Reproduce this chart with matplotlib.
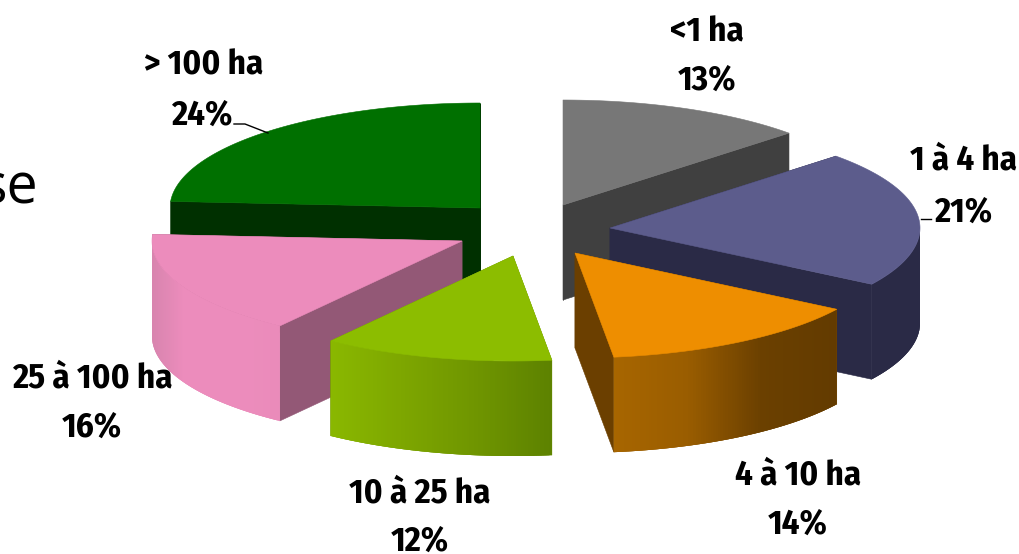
import numpy as np
import matplotlib
matplotlib.use("Agg")
import matplotlib.pyplot as plt
from matplotlib.colors import to_rgb
from matplotlib.patches import Polygon

# Data
categories = ["<1 ha", "1 à 4 ha", "4 à 10 ha", "10 à 25 ha", "25 à 100 ha", "> 100 ha"]
values = [13, 21, 14, 12, 16, 24]

# Styling and layout (pixels of the 1019x554 figure)
top_colors = ["#777777", "#5c5c8c", "#ee8e00", "#8cbd00", "#ec8cbc", "#007000"]
cut_colors = ["#404040", "#2a2a46", "#6b3f00", "#6a8e00", "#935876", "#003000"]
wall_stops = [
    ["#404040", "#404040"],
    ["#2a2a46", "#2a2a46"],
    ["#a86600", "#9a5d00", "#6b4000", "#633b00"],
    ["#8ab800", "#7da600", "#6f9500", "#5d8200"],
    ["#d884ae", "#ec8cbc", "#ec8cbc", "#ec8cbc", "#ea8bba"],
    ["#003000", "#003000"],
]
center = (530, 228)
explode_dx = [33, 80, 45, -17, -68, -50]
explode_dy = [-23, 0, 25, 28, 13, -20]
rx, ry, depth = 310, 105, 95
draw_order = [5, 0, 4, 1, 2, 3]
label_pos = [(707, 32, 707, 80), (964, 160, 963, 212), (798, 475, 798, 524),
             (420, 493, 420, 541), (92, 378, 92, 427), (204, 65, 202, 115)]
leaders = [([234, 245, 268], [124, 124, 133]), ([921, 931], [219, 219])]

fig = plt.figure(figsize=(10.19, 5.54), dpi=100, facecolor="white")
ax = fig.add_axes([0, 0, 1, 1])
ax.set_xlim(0, 1019)
ax.set_ylim(554, 0)
ax.axis("off")


def arc(ax0, ay0, t0, t1, n=80):
    t = np.radians(np.linspace(t0, t1, n))
    return ax0 + rx * np.sin(t), ay0 - ry * np.cos(t)


def quad(xs, ys, color, z, lw=0.4):
    ax.add_patch(Polygon(np.column_stack([xs, ys]), closed=True, facecolor=color,
                         edgecolor=color if lw else "none", linewidth=lw, zorder=z))


edges = np.concatenate([[0], np.cumsum(values)]) / sum(values) * 360
z = 1
for i in draw_order:
    t0, t1 = edges[i], edges[i + 1]
    ox, oy = center[0] + explode_dx[i], center[1] + explode_dy[i]
    # Cut faces
    for t in (t0, t1):
        ex, ey = arc(ox, oy, t, t, 1)
        quad([ox, ex[0], ex[0], ox], [oy, ey[0], ey[0] + depth, oy + depth], cut_colors[i], z)
        z += 1
    # Outer wall, only the part that faces the viewer
    w0, w1 = max(t0, 90), min(t1, 270)
    if w1 > w0:
        n = 100
        xs, ys = arc(ox, oy, w0, w1, n)
        x_left, x_right = xs.min(), xs.max()
        stops = np.array([to_rgb(c) for c in wall_stops[i]])
        pos = np.linspace(0, 1, len(stops))
        # Solid base so that very narrow strips leave no seams
        quad(np.r_[xs, xs[::-1]], np.r_[ys, ys[::-1] + depth], tuple(stops.mean(axis=0)), z, lw=0)
        z += 0.001
        for k in range(n - 1):
            f = (xs[k] - x_left) / (x_right - x_left)
            col = [np.interp(f, pos, stops[:, c]) for c in range(3)]
            e = min(k + 3, n)
            quad(np.r_[xs[k:e], xs[k:e][::-1]], np.r_[ys[k:e], ys[k:e][::-1] + depth], col, z, lw=0)
            z += 0.001
        z += 1
    # Top face
    xs, ys = arc(ox, oy, t0, t1, 160)
    quad(np.r_[ox, xs], np.r_[oy, ys], top_colors[i], z)
    z += 1

font = ["Fira Sans Condensed", "Asap Condensed", "Liberation Sans"]
for name, val, (x1, y1, x2, y2) in zip(categories, values, label_pos):
    ax.text(x1, y1, name, ha="center", va="center", fontsize=25, fontweight="bold",
            family=font, color="black", zorder=100)
    ax.text(x2, y2, f"{val}%", ha="center", va="center", fontsize=25, fontweight="bold",
            family=font, color="black", zorder=100)
for lx, ly in leaders:
    ax.plot(lx, ly, color="black", lw=1.0, zorder=99)

ax.text(38, 204, "se", ha="right", va="baseline", fontsize=40,
        family=["Open Sans", "DejaVu Sans"], color="black", zorder=100)

fig.savefig("out.png", dpi=100)
